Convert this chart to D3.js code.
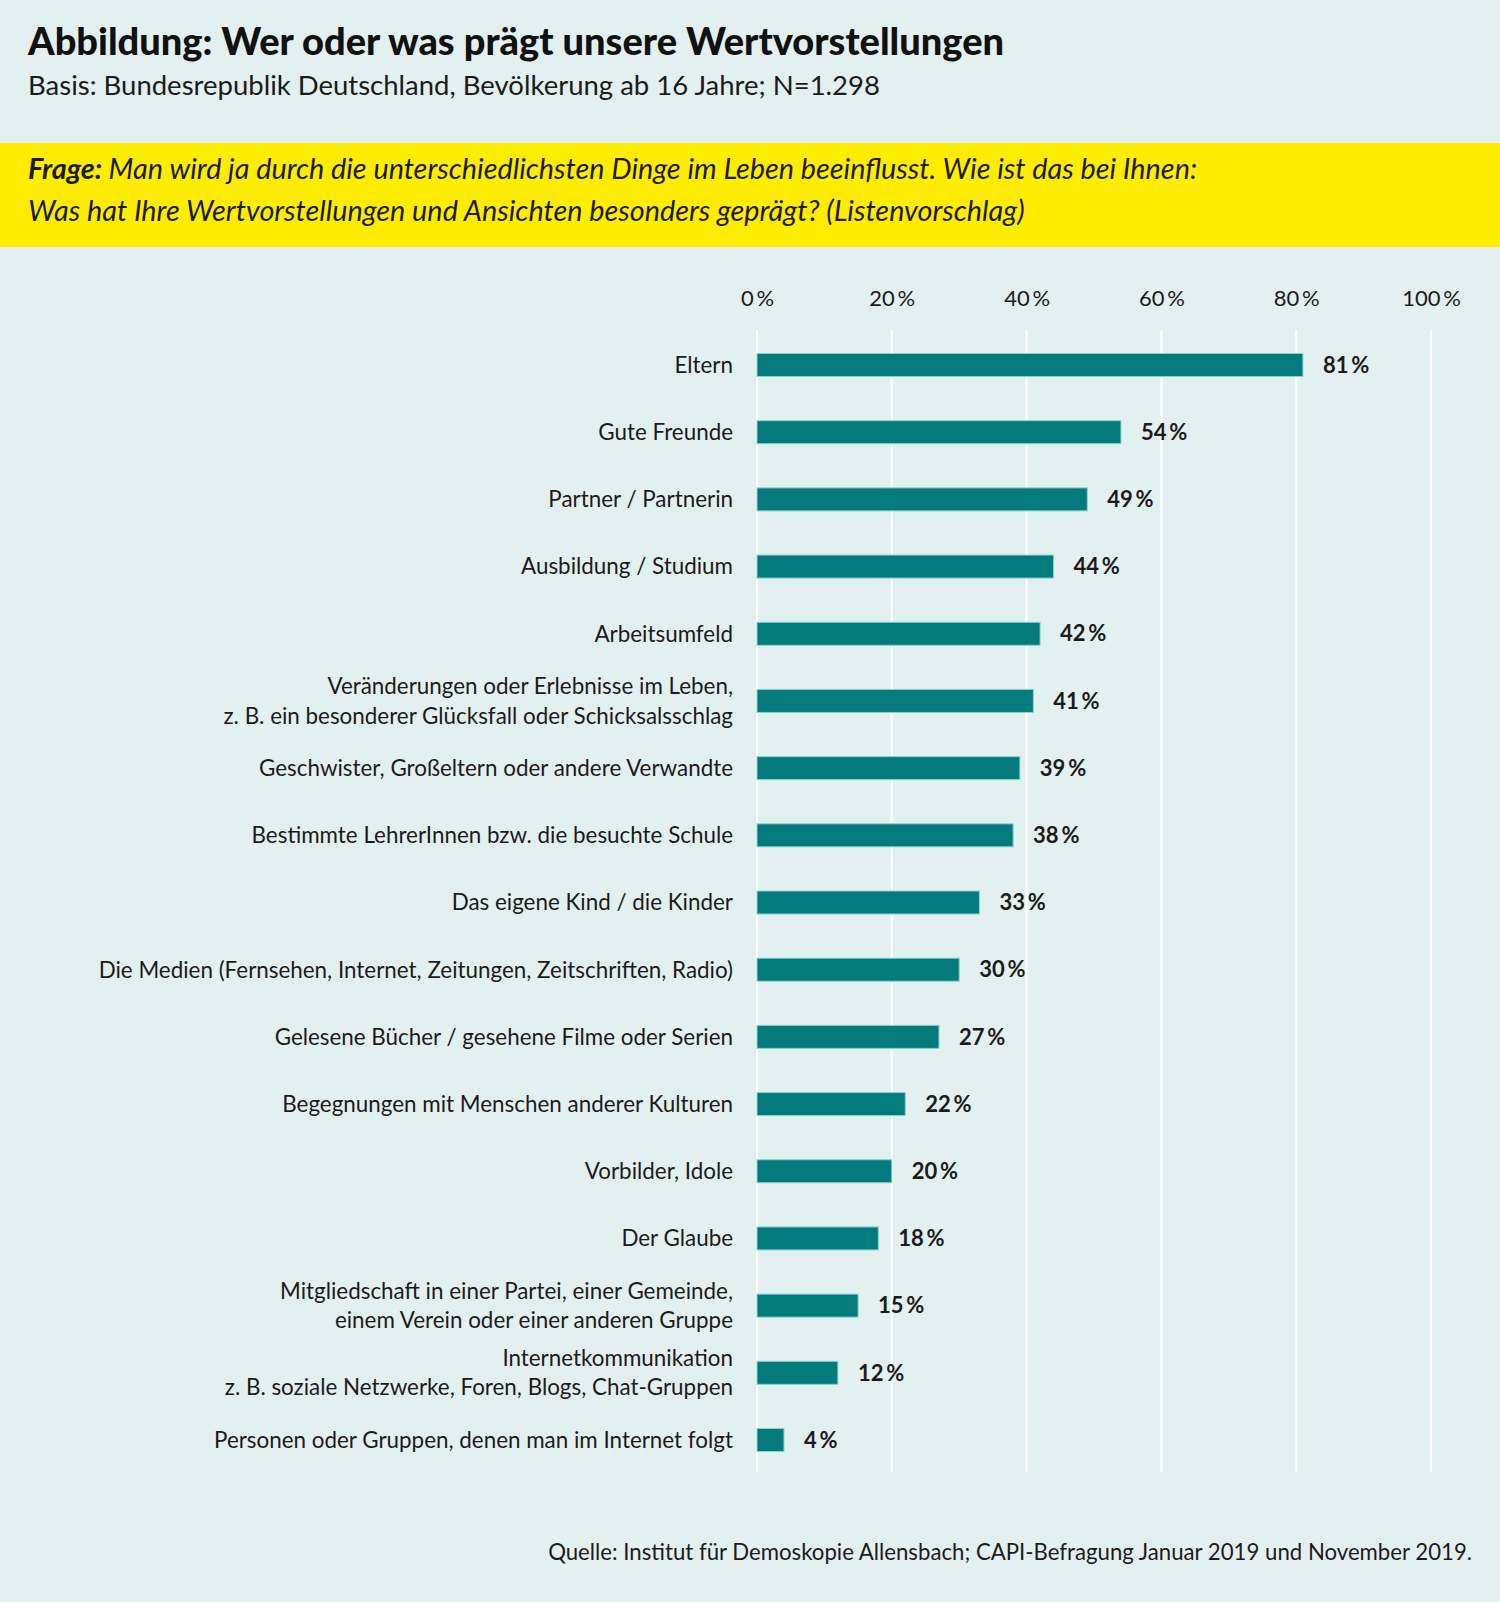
<!DOCTYPE html>
<html>
<head>
<meta charset="utf-8">
<script src="https://cdn.jsdelivr.net/npm/d3@7"></script>
<style>
  body { margin: 0; background: #e3f0f0; }
  svg { display: block; font-family: Lato, "Noto Sans", sans-serif; }
</style>
</head>
<body>
<script>
var w = 1500;
var h = 1602;

// categories (two-line labels split with "|")
var categories = [
  "Eltern",
  "Gute Freunde",
  "Partner / Partnerin",
  "Ausbildung / Studium",
  "Arbeitsumfeld",
  "Veränderungen oder Erlebnisse im Leben,|z. B. ein besonderer Glücksfall oder Schicksalsschlag",
  "Geschwister, Großeltern oder andere Verwandte",
  "Bestimmte LehrerInnen bzw. die besuchte Schule",
  "Das eigene Kind / die Kinder",
  "Die Medien (Fernsehen, Internet, Zeitungen, Zeitschriften, Radio)",
  "Gelesene Bücher / gesehene Filme oder Serien",
  "Begegnungen mit Menschen anderer Kulturen",
  "Vorbilder, Idole",
  "Der Glaube",
  "Mitgliedschaft in einer Partei, einer Gemeinde,|einem Verein oder einer anderen Gruppe",
  "Internetkommunikation|z. B. soziale Netzwerke, Foren, Blogs, Chat-Gruppen",
  "Personen oder Gruppen, denen man im Internet folgt"
];
var values = [81, 54, 49, 44, 42, 41, 39, 38, 33, 30, 27, 22, 20, 18, 15, 12, 4];
var ticks = [0, 20, 40, 60, 80, 100];

var title = "Abbildung: Wer oder was prägt unsere Wertvorstellungen";
var subtitle = "Basis: Bundesrepublik Deutschland, Bevölkerung ab 16 Jahre; N=1.298";
var frageLines = [
  "Man wird ja durch die unterschiedlichsten Dinge im Leben beeinflusst. Wie ist das bei Ihnen:",
  "Was hat Ihre Wertvorstellungen und Ansichten besonders geprägt? (Listenvorschlag)"
];
var source = "Quelle: Institut für Demoskopie Allensbach; CAPI-Befragung Januar 2019 und November 2019.";

var teal = "#037a7b";
var ink = "#1b1b1b";

var svg = d3.select("body").append("svg")
  .attr("width", w)
  .attr("height", h)
  .style("background-color", "#e3f0f0");

// header
svg.append("text")
  .attr("x", 28).attr("y", 55)
  .attr("font-size", 38).attr("font-weight", 900)
  .attr("fill", "#111")
  .text(title);
svg.append("text")
  .attr("x", 28).attr("y", 95)
  .attr("font-size", 27.5)
  .attr("fill", ink)
  .text(subtitle);

svg.append("rect")
  .attr("x", 0).attr("y", 143)
  .attr("width", w).attr("height", 104)
  .attr("fill", "#ffed00");

var frage = svg.append("g")
  .attr("font-size", 28.8).attr("font-style", "italic").attr("fill", ink);
frage.selectAll("text")
  .data(frageLines)
  .join("text")
  .attr("x", 28)
  .attr("y", function (d, i) { return 179 + i * 42; })
  .each(function (d, i) {
    var t = d3.select(this);
    if (i === 0) {
      t.append("tspan").attr("font-weight", 700).text("Frage: ");
    }
    t.append("tspan").text(d);
  });

// scales
var x = d3.scaleLinear()
  .domain([0, 100])
  .range([757, 1431]);
var y = d3.scalePoint()
  .domain(categories)
  .range([365, 1440]);
var barH = 23;

// grid
svg.append("g")
  .selectAll("line")
  .data(ticks)
  .join("line")
  .attr("x1", function (d) { return x(d); })
  .attr("x2", function (d) { return x(d); })
  .attr("y1", 330).attr("y2", 1472)
  .attr("stroke", "#ffffff")
  .attr("stroke-width", 2);

// axis labels on top
var axis = d3.axisTop(x)
  .tickValues(ticks)
  .tickSize(0)
  .tickPadding(0)
  .tickFormat(function (d) { return d + "\u2009%"; });
var ax = svg.append("g")
  .attr("transform", "translate(0,306)")
  .call(axis);
ax.select(".domain").remove();
ax.selectAll("text")
  .attr("font-family", "Lato, 'Noto Sans', sans-serif")
  .attr("font-size", 22)
  .attr("fill", ink);

// bars
svg.append("g")
  .selectAll("rect")
  .data(values)
  .join("rect")
  .attr("x", x(0))
  .attr("y", function (d, i) { return y(categories[i]) - barH / 2; })
  .attr("width", function (d) { return x(d) - x(0); })
  .attr("height", barH)
  .attr("fill", teal)
  .attr("stroke", "#8fd0d0")
  .attr("stroke-width", 1);

// value labels
svg.append("g")
  .selectAll("text")
  .data(values)
  .join("text")
  .attr("x", function (d) { return x(d) + 20; })
  .attr("y", function (d, i) { return y(categories[i]); })
  .attr("dy", "0.35em")
  .attr("font-size", 22)
  .attr("font-weight", 700)
  .attr("fill", ink)
  .text(function (d) { return d + "\u2009%"; });

// category labels
var lab = svg.append("g")
  .selectAll("text")
  .data(categories)
  .join("text")
  .attr("x", 733)
  .attr("y", function (d) { return y(d); })
  .attr("text-anchor", "end")
  .attr("font-size", 22.4)
  .attr("fill", ink);
lab.each(function (d) {
  var parts = d.split("|");
  var t = d3.select(this);
  parts.forEach(function (p, j) {
    t.append("tspan")
      .attr("x", 733)
      .attr("dy", j === 0 ? (parts.length === 1 ? "0.35em" : (0.35 - 0.66) + "em") : "1.32em")
      .text(p);
  });
});

// source
svg.append("text")
  .attr("x", 1472).attr("y", 1560)
  .attr("text-anchor", "end")
  .attr("font-size", 22.2)
  .attr("fill", ink)
  .text(source);
</script>
</body>
</html>
